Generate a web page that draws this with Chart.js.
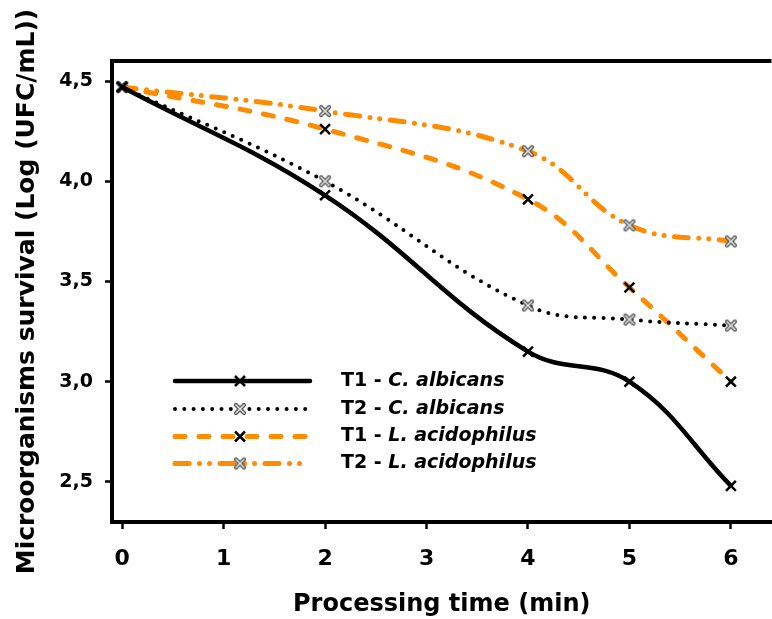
<!DOCTYPE html>
<html>
<head>
<meta charset="utf-8">
<script src="https://cdn.jsdelivr.net/npm/chart.js@4.4.1/dist/chart.umd.min.js"></script>
<style>
html, body { margin: 0; padding: 0; background: #fff; overflow: hidden; }
canvas { display: block; }
</style>
</head>
<body>
<canvas id="chart" width="781" height="619"></canvas>
<script>
// data
const times = [0, 2, 4, 5, 6];
const t1Albicans = [4.47, 3.93, 3.15, 3.00, 2.48];
const t2Albicans = [4.47, 4.00, 3.38, 3.31, 3.28];
const t1Acidophilus = [4.47, 4.26, 3.91, 3.47, 3.00];
const t2Acidophilus = [4.47, 4.35, 4.15, 3.78, 3.70];
const seriesPrefix = ['T1 - ', 'T2 - ', 'T1 - ', 'T2 - '];
const seriesSpecies = ['C. albicans', 'C. albicans', 'L. acidophilus', 'L. acidophilus'];
const xTicks = [0, 1, 2, 3, 4, 5, 6];
const yTicks = [2.5, 3.0, 3.5, 4.0, 4.5];

const FONT = '"DejaVu Sans", "Liberation Sans", Arial, sans-serif';
const ORANGE = '#FF8C00';

// grey outlined cross marker
function greyCross() {
	const c = document.createElement('canvas');
	c.width = 16; c.height = 16;
	const g = c.getContext('2d');
	g.lineCap = 'round';
	const cross = () => {
		g.beginPath();
		g.moveTo(4, 4); g.lineTo(12, 12);
		g.moveTo(12, 4); g.lineTo(4, 12);
		g.stroke();
	};
	g.strokeStyle = '#5a5a5a'; g.lineWidth = 4.2; cross();
	g.strokeStyle = '#e4e4e4'; g.lineWidth = 1.5; cross();
	return c;
}
const greyMark = greyCross();

function pts(vals) {
	return times.map((t, i) => ({ x: t, y: vals[i] }));
}

const styles = [
	{ color: '#000', width: 4.5, dash: [], mark: 'crossRot' },
	{ color: '#000', width: 4, dash: [0, 9.3], mark: greyMark },
	{ color: ORANGE, width: 5, dash: [10, 14], mark: 'crossRot' },
	{ color: ORANGE, width: 5, dash: [14, 10.5, 0, 10, 0, 10.5], mark: greyMark }
];
const values = [t1Albicans, t2Albicans, t1Acidophilus, t2Acidophilus];

const datasets = values.map((v, i) => ({
	label: seriesPrefix[i] + seriesSpecies[i],
	data: pts(v),
	borderColor: styles[i].color,
	borderWidth: styles[i].width,
	borderDash: styles[i].dash,
	borderCapStyle: 'round',
	borderJoinStyle: 'round',
	tension: 0.4,
	fill: false,
	pointStyle: styles[i].mark,
	pointRadius: 7,
	pointBorderWidth: 2.5,
	pointBorderColor: '#000',
	pointBackgroundColor: '#000'
}));

const framePlugin = {
	id: 'frame',
	afterDraw(chart) {
		const { ctx, chartArea } = chart;
		ctx.save();
		ctx.strokeStyle = '#000';
		ctx.lineWidth = 4;
		ctx.beginPath();
		ctx.moveTo(chartArea.left - 2, chartArea.top);
		ctx.lineTo(chartArea.right, chartArea.top);
		ctx.stroke();

		// legend
		const rows = [381, 409, 436.5, 463.5];
		const x0 = 173, x1 = 310, mx = 240, tx = 341;
		rows.forEach((y, i) => {
			const s = styles[i];
			ctx.save();
			ctx.strokeStyle = s.color;
			ctx.lineWidth = s.width;
			ctx.lineCap = 'round';
			ctx.setLineDash(s.dash);
			ctx.beginPath();
			ctx.moveTo(x0 + 2, y);
			ctx.lineTo(x1, y);
			ctx.stroke();
			ctx.restore();
			if (s.mark === 'crossRot') {
				ctx.save();
				ctx.strokeStyle = '#000';
				ctx.lineWidth = 2.5;
				ctx.beginPath();
				ctx.moveTo(mx - 5, y - 5); ctx.lineTo(mx + 5, y + 5);
				ctx.moveTo(mx + 5, y - 5); ctx.lineTo(mx - 5, y + 5);
				ctx.stroke();
				ctx.restore();
			} else {
				ctx.drawImage(greyMark, mx - 8, y - 8);
			}
			ctx.fillStyle = '#000';
			ctx.textBaseline = 'middle';
			ctx.font = 'bold 19px ' + FONT;
			ctx.fillText(seriesPrefix[i], tx, y);
			const w = ctx.measureText(seriesPrefix[i]).width;
			ctx.font = 'italic bold 19px ' + FONT;
			ctx.fillText(seriesSpecies[i], tx + w, y);
		});
		ctx.restore();
	}
};

new Chart(document.getElementById('chart'), {
	type: 'line',
	data: { datasets: datasets },
	plugins: [framePlugin],
	options: {
		responsive: false,
		animation: false,
		layout: { padding: { top: 61, left: 0, right: 0, bottom: 0 } },
		plugins: {
			legend: { display: false },
			tooltip: { enabled: false }
		},
		scales: {
			x: {
				type: 'linear',
				min: -0.1,
				max: 6.4,
				afterBuildTicks: s => { s.ticks = xTicks.map(v => ({ value: v })); },
				afterFit: s => { s.height = 97; },
				grid: { drawOnChartArea: false, tickLength: 7, tickWidth: 2.5, tickColor: '#000' },
				border: { color: '#000', width: 4 },
				ticks: {
					color: '#000',
					padding: 17,
					font: { family: FONT, size: 22, weight: 'bold' },
					callback: v => String(v)
				},
				title: {
					display: true,
					text: 'Processing time (min)',
					color: '#000',
					font: { family: FONT, size: 24, weight: 'bold' },
					padding: { top: 0, bottom: 0 }
				}
			},
			y: {
				min: 2.3,
				max: 4.6,
				afterBuildTicks: s => { s.ticks = yTicks.map(v => ({ value: v })); },
				afterFit: s => { s.width = 112; },
				grid: { drawOnChartArea: false, tickLength: 7, tickWidth: 2.5, tickColor: '#000' },
				border: { color: '#000', width: 4 },
				ticks: {
					color: '#000',
					padding: 12,
					font: { family: FONT, size: 19, weight: 'bold' },
					callback: v => v.toFixed(1).replace('.', ',')
				},
				title: {
					display: true,
					text: 'Microorganisms survival (Log (UFC/mL))',
					color: '#000',
					font: { family: FONT, size: 25, weight: 'bold' },
					padding: { top: 12, bottom: 0 }
				}
			}
		}
	}
});
</script>
</body>
</html>
